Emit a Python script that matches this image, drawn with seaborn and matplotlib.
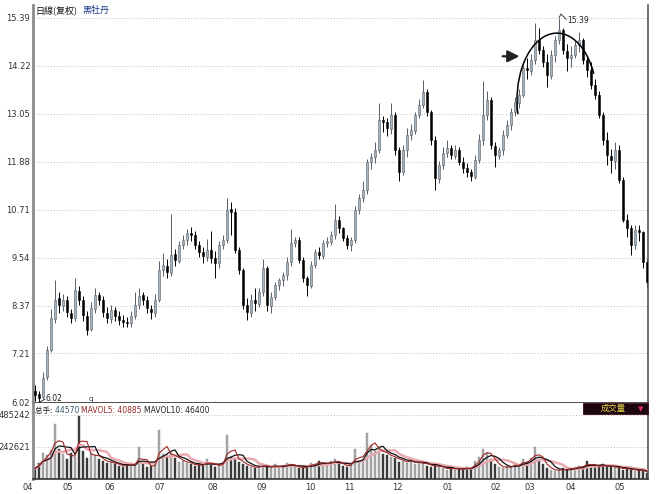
import numpy as np
import pandas as pd
import matplotlib
matplotlib.use("Agg")
import matplotlib.pyplot as plt
import seaborn as sns
from matplotlib.patches import Arc, Rectangle

# ---------------- data ----------------
opens = [6.30,6.22,6.15,6.63,7.30,8.05,8.55,8.36,8.52,8.20,
         8.08,8.74,8.50,8.12,7.80,8.30,8.64,8.50,8.20,8.05,
         8.27,8.13,8.03,7.98,7.94,8.11,8.39,8.62,8.52,8.30,
         8.20,8.52,9.25,9.35,9.18,9.62,9.46,9.86,9.98,10.15,
         10.10,9.86,9.69,9.57,9.74,9.54,9.40,9.86,9.98,10.72,
         10.66,9.74,9.25,8.39,8.20,8.52,8.42,8.71,9.30,8.37,
         8.59,8.88,9.00,9.11,9.44,9.91,9.98,9.49,9.05,8.86,
         9.37,9.69,9.59,9.91,9.93,10.10,10.47,10.27,10.03,9.84,
         9.98,10.71,11.00,11.20,11.88,12.00,12.17,12.90,12.86,12.69,
         13.03,12.17,11.62,12.17,12.54,12.64,13.03,13.27,13.59,13.10,
         12.42,11.47,11.81,12.10,12.22,12.03,12.17,11.88,11.73,11.62,
         11.52,11.93,12.42,13.03,13.39,12.27,12.03,12.17,12.54,12.78,
         13.10,13.32,13.51,14.17,14.10,14.37,14.85,14.61,14.30,13.98,
         14.49,14.85,15.10,14.59,14.40,14.49,14.73,14.85,14.37,14.12,
         13.76,13.51,13.03,12.42,12.03,11.91,12.17,11.44,10.47,10.27,
         9.84,10.22,10.17,9.44]
highs = [6.45,6.30,6.75,7.40,8.30,9.00,8.70,8.65,8.60,8.30,
         9.05,8.85,8.60,8.25,8.45,8.80,8.70,8.60,8.35,8.40,
         8.35,8.25,8.15,8.10,8.25,8.70,8.80,8.70,8.60,8.40,
         8.65,9.45,9.65,9.50,10.60,9.75,9.95,10.10,10.25,10.30,
         10.20,9.95,9.80,10.00,10.20,9.70,9.95,10.10,11.00,10.90,
         10.75,9.80,9.30,8.55,8.65,8.80,8.80,9.50,9.35,8.70,
         8.95,9.05,9.20,9.55,10.25,10.05,10.05,9.55,9.10,9.45,
         9.75,9.80,9.98,10.05,10.20,10.85,10.55,10.30,10.10,10.05,
         10.80,11.10,11.40,11.95,12.10,12.35,13.30,13.00,12.95,13.30,
         13.10,12.25,12.30,12.70,12.80,13.10,13.40,13.87,13.65,13.15,
         12.50,11.90,12.25,12.40,12.30,12.30,12.25,12.00,11.85,11.70,
         12.05,12.55,13.85,13.60,13.45,12.35,12.25,12.65,12.90,13.20,
         13.45,13.65,14.30,14.40,14.50,15.25,15.15,14.70,14.50,14.60,
         14.95,15.39,15.15,14.75,14.70,14.85,15.05,14.90,14.45,14.30,
         13.90,13.60,13.10,12.60,12.20,12.35,12.30,11.50,10.60,10.35,
         10.35,10.35,10.20,9.50]
lows = [6.05,6.02,6.10,6.55,7.25,7.95,8.20,8.25,8.10,7.95,
        8.00,8.40,8.00,7.65,7.75,8.20,8.40,8.10,7.95,7.95,
        8.00,7.90,7.85,7.85,7.85,8.05,8.30,8.40,8.20,8.05,
        8.10,8.45,9.10,9.05,9.10,9.35,9.40,9.75,9.85,9.95,
        9.75,9.55,9.40,9.45,9.40,9.05,9.30,9.75,9.90,10.10,
        9.65,9.15,8.30,8.02,8.10,8.25,8.35,8.60,8.25,8.20,
        8.50,8.75,8.85,9.00,9.35,9.80,9.40,8.95,8.60,8.80,
        9.30,9.50,9.50,9.80,9.85,10.00,10.15,9.95,9.75,9.70,
        9.90,10.60,10.90,11.10,11.70,11.85,12.10,12.60,12.50,12.55,
        12.05,11.40,11.55,12.00,12.40,12.55,12.95,13.20,13.00,12.30,
        11.20,11.35,11.70,12.00,11.95,11.95,11.80,11.60,11.50,11.40,
        11.45,11.85,12.30,12.90,12.20,11.75,11.95,12.05,12.45,12.65,
        13.00,13.20,13.45,13.90,14.00,14.25,14.50,14.20,13.70,13.90,
        14.30,14.75,14.50,14.10,14.20,14.40,14.55,14.25,13.95,13.65,
        13.40,12.95,12.30,11.80,11.60,11.70,11.35,10.40,10.05,9.60,
        9.75,9.95,9.30,8.80]
closes = [6.19,6.12,6.61,7.29,8.07,8.51,8.38,8.51,8.21,8.07,
          8.75,8.51,8.14,7.78,8.31,8.63,8.51,8.21,8.07,8.26,
          8.12,8.02,7.97,7.95,8.12,8.38,8.60,8.51,8.31,8.21,
          8.51,9.24,9.36,9.19,9.60,9.48,9.85,9.97,10.14,10.09,
          9.85,9.68,9.58,9.73,9.53,9.41,9.85,9.97,10.70,10.65,
          9.73,9.24,8.38,8.21,8.51,8.43,8.70,9.29,8.38,8.58,
          8.87,8.99,9.12,9.43,9.90,9.97,9.48,9.04,8.87,9.36,
          9.68,9.60,9.90,9.92,10.09,10.46,10.26,10.02,9.85,9.97,
          10.70,10.99,11.19,11.87,11.99,12.16,12.89,12.85,12.70,13.02,
          12.16,11.63,12.16,12.53,12.65,13.02,13.26,13.58,13.09,12.41,
          11.48,11.80,12.09,12.21,12.04,12.16,11.87,11.72,11.63,11.53,
          11.92,12.41,13.02,13.38,12.28,12.04,12.16,12.53,12.77,13.09,
          13.33,13.50,14.16,14.11,14.36,14.84,14.60,14.31,13.99,14.48,
          14.84,15.09,14.60,14.41,14.48,14.72,14.84,14.36,14.11,13.75,
          13.50,13.02,12.41,12.04,11.92,12.16,11.43,10.46,10.26,9.85,
          10.21,10.16,9.43,8.95]
volume_k = [80,120,200,180,220,420,230,190,150,200,
            170,480,210,160,200,180,150,140,120,130,
            110,100,90,110,120,100,240,110,90,100,
            110,370,190,180,200,160,130,140,120,110,
            100,110,100,150,110,90,110,130,330,170,
            160,130,110,100,90,80,100,110,90,80,
            110,90,100,120,110,90,80,90,100,120,
            110,140,120,100,140,150,110,100,90,120,
            230,130,150,350,260,210,230,190,180,170,
            160,130,140,120,150,110,120,130,100,90,
            110,90,80,70,90,70,80,70,90,80,
            140,170,230,200,150,110,90,80,100,90,
            120,100,150,130,160,240,150,110,80,70,
            60,70,80,70,80,90,100,90,140,100,
            90,100,110,90,100,80,90,70,80,70,
            60,70,60,45]

price_ticks = [6.02, 7.21, 8.37, 9.54, 10.71, 11.88, 13.05, 14.22, 15.39]
vol_ticks = [242621, 485242]
month_labels = ["04", "05", "06", "07", "08", "09", "10", "11", "12",
                "01", "02", "03", "04", "05"]
month_pos = [-0.5, 8.25, 18.75, 31.25, 44.5, 56.75, 68.75, 78.5, 90.5,
             103.25, 115.25, 123.75, 134.0, 146.25]
title_main = "日線(复权)"
title_name = "黑牡丹"
peak_value = "15.39"
low_value = "6.02"
vol_legend = [("总手: ", "#222222"), ("44570 ", "#3a5a6a"),
              ("MAVOL5: 40885 ", "#9a2a2a"), ("MAVOL10: 46400", "#222222")]

# ---------------- frame ----------------
df = pd.DataFrame({"open": opens, "high": highs, "low": lows,
                   "close": closes, "vol": np.array(volume_k) * 1000.0})
df["idx"] = np.arange(len(df))
df["up"] = df["close"] >= df["open"]
df["ma5"] = df["vol"].rolling(3, min_periods=1).mean()
df["ma10"] = df["vol"].rolling(5, min_periods=1).mean()
df["ma20"] = df["vol"].rolling(8, min_periods=1).mean()

sns.set_style("white")
plt.rcParams["font.family"] = ["DejaVu Sans", "Noto Sans CJK SC"]
CJK = ["Noto Sans CJK SC", "DejaVu Sans"]

W, H = 658, 494
fig = plt.figure(figsize=(W / 100, H / 100), dpi=100)
fig.patch.set_facecolor("white")
ax = fig.add_axes([33 / W, (H - 403) / H, 615 / W, 398 / H])
axv = fig.add_axes([33 / W, (H - 479) / H, 615 / W, 76 / H], sharex=ax)

up = df[df.up]
dn = df[~df.up]
# wicks
ax.vlines(up.idx, up.low, up.high, color="#56606a", lw=0.7, zorder=2)
ax.vlines(dn.idx, dn.low, dn.high, color="#000000", lw=0.7, zorder=2)
# bodies
ax.bar(up.idx, (up.close - up.open).clip(lower=0.03), bottom=up.open,
       width=0.6, color="#a9b3ba", edgecolor="#56606a", linewidth=0.4, zorder=3)
ax.bar(dn.idx, (dn.open - dn.close).clip(lower=0.03), bottom=dn.close,
       width=0.6, color="#000000", edgecolor="#000000", linewidth=0.4, zorder=3)

ax.set_xlim(-0.5, 153.25)
ax.set_ylim(6.00, 15.70)
ax.set_yticks(price_ticks)
ax.set_yticklabels([f"{t:.2f}" for t in price_ticks])
ax.yaxis.grid(True, linestyle=(0, (1, 2)), color="#bdbdbd", lw=0.7)
ax.xaxis.grid(False)
ax.tick_params(axis="y", length=0, pad=2, labelsize=6, colors="#333333")
ax.tick_params(axis="x", length=0, labelbottom=False)
ax.spines["top"].set_visible(False)
ax.spines["left"].set_color("#8c8c8c")
ax.spines["left"].set_linewidth(2)
ax.spines["right"].set_color("#555555")
ax.spines["right"].set_linewidth(1.2)
ax.spines["bottom"].set_color("#333333")
ax.spines["bottom"].set_linewidth(1.2)

# title
t1 = fig.text(35 / W, 1 - 10 / H, title_main, family=CJK, fontsize=6.5,
              color="#111111", va="center", ha="left")
ax.annotate(title_name, xy=(1, 0.5), xycoords=t1, xytext=(4, 0),
            textcoords="offset points", family=CJK, fontsize=6.5,
            color="#1a3a8a", va="center", ha="left")

# peak annotation
pk = int(np.argmax(highs))
ax.plot([pk, pk + 0.5, pk + 1.8], [highs[pk], highs[pk] + 0.09, highs[pk] - 0.04],
        color="#222222", lw=0.6, zorder=4)
ax.text(pk + 2.0, highs[pk] - 0.06, peak_value, fontsize=5.5, color="#222222",
        va="center", ha="left")
# low annotation
lw_i = int(np.argmin(lows))
ax.plot([lw_i, lw_i + 1.5], [lows[lw_i], lows[lw_i] + 0.07], color="#222222", lw=0.6)
ax.text(lw_i + 1.7, lows[lw_i] + 0.08, low_value, fontsize=5.5, color="#222222",
        va="center", ha="left")
ax.text(14.0, 6.10, "q", fontsize=5, color="#333333", va="center", ha="center")

# arc and arrow around the top
ax.add_patch(Arc((130.5, 13.38), 20, 3.27, theta1=4, theta2=182,
                 color="black", lw=1.1, zorder=5))
ax.annotate("", xy=(121.8, 14.45), xytext=(116.2, 14.45),
            arrowprops=dict(arrowstyle="-|>,head_length=0.7,head_width=0.35",
                            color="#222222", lw=1.6), zorder=5)

# ---------------- volume ----------------
axv.bar(up.idx, up.vol, width=0.7, color="#a8a8a8", edgecolor="#909090",
        linewidth=0.3, zorder=2)
axv.bar(dn.idx, dn.vol, width=0.3, color="#3a3a3a", edgecolor="#3a3a3a",
        linewidth=0.3, zorder=2)
sns.lineplot(data=df, x="idx", y="ma20", ax=axv, color="#e9a9b0", lw=1.8, zorder=3)
sns.lineplot(data=df, x="idx", y="ma10", ax=axv, color="#111111", lw=0.9, zorder=4)
sns.lineplot(data=df, x="idx", y="ma5", ax=axv, color="#a02828", lw=0.8, zorder=5)

axv.set_ylim(0, 576000)
axv.set_yticks(vol_ticks)
axv.set_yticklabels([str(v) for v in vol_ticks])
axv.yaxis.grid(True, linestyle=(0, (1, 2)), color="#bdbdbd", lw=0.7)
axv.xaxis.grid(False)
axv.set_xlabel("")
axv.set_ylabel("")
axv.set_xticks(month_pos)
axv.set_xticklabels(month_labels)
axv.set_xlim(-0.5, 153.25)
axv.tick_params(axis="y", length=0, pad=2, labelsize=6, colors="#333333")
axv.tick_params(axis="x", length=0, pad=3, labelsize=6, colors="#333333")
xl = axv.get_xticklabels()
xl[0].set_horizontalalignment("right")
for lab in xl:
    lab.set_clip_on(False)
axv.spines["top"].set_visible(False)
axv.spines["left"].set_color("#8c8c8c")
axv.spines["left"].set_linewidth(2)
axv.spines["right"].set_color("#555555")
axv.spines["right"].set_linewidth(1.2)
axv.spines["bottom"].set_color("#333333")
axv.spines["bottom"].set_linewidth(1.2)

# volume legend text
prev = axv.text(0.004, 0.90, vol_legend[0][0], transform=axv.transAxes,
                family=CJK, fontsize=5.5, color=vol_legend[0][1], va="center", ha="left")
for txt, col in vol_legend[1:]:
    prev = axv.annotate(txt, xy=(1, 0.5), xycoords=prev, xytext=(0, 0),
                        textcoords="offset points", fontsize=5.5, color=col,
                        va="center", ha="left")

# indicator tab
axv.add_patch(Rectangle((0.894, 0.855), 0.106, 0.145, transform=axv.transAxes,
                        facecolor="#1e0610", edgecolor="#400a1a", lw=0.6,
                        zorder=6, clip_on=False))
axv.text(0.943, 0.925, "成交量", transform=axv.transAxes, family=CJK,
         fontsize=6, color="#e8d84a", va="center", ha="center", zorder=7)
axv.text(0.988, 0.925, "▼", transform=axv.transAxes, family=["DejaVu Sans"],
         fontsize=5, color="#e0305a", va="center", ha="center", zorder=7)

fig.savefig("out.png", dpi=100)
